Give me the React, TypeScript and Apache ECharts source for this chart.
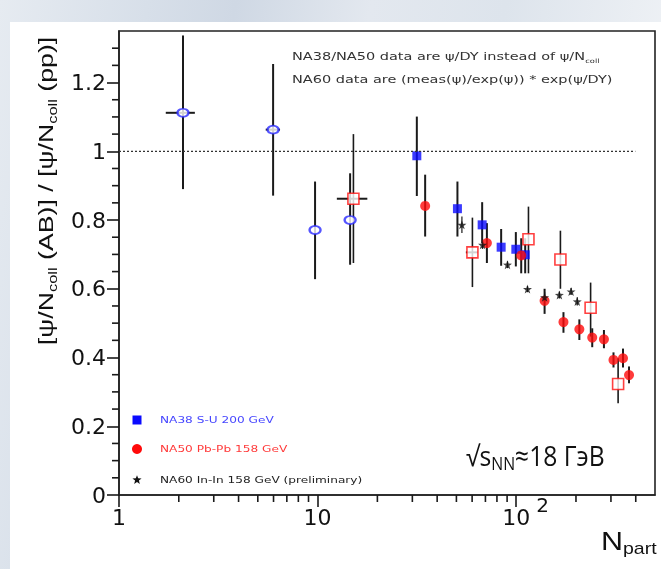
import React, { useEffect, useRef } from "react";
import * as echarts from "echarts";

// NA38 S-U 200 GeV (psi/DY), filled blue squares
const na38Npart = [31.6, 50.6, 67.4, 84.0, 99.6, 111];
const na38Ratio = [0.987, 0.833, 0.786, 0.721, 0.715, 0.699];
const na38Low = [0.87, 0.752, 0.733, 0.667, 0.665, 0.645];
const na38High = [1.101, 0.912, 0.852, 0.774, 0.765, 0.747];

// NA50 Pb-Pb 158 GeV, filled red circles
const na50Npart = [34.8, 71.2, 106, 139, 173, 208, 241.5, 276.6, 309, 345, 370];
const na50Ratio = [0.841, 0.733, 0.697, 0.565, 0.503, 0.482, 0.458, 0.453, 0.393, 0.398, 0.349];
const na50Low = [0.752, 0.675, 0.645, 0.527, 0.472, 0.451, 0.43, 0.427, 0.371, 0.371, 0.325];
const na50High = [0.932, 0.791, 0.747, 0.6, 0.532, 0.511, 0.485, 0.48, 0.415, 0.426, 0.374];

// Pb-Pb open squares
const pbOpenNpart = [15.15, 60.2, 115.3, 167, 237, 326];
const pbOpenRatio = [0.862, 0.706, 0.744, 0.685, 0.545, 0.323];
const pbOpenLow = [0.675, 0.605, 0.645, 0.6, 0.461, 0.267];
const pbOpenHigh = [1.05, 0.807, 0.839, 0.769, 0.618, 0.398];
const pbOpenXLow = [12.5, 55.8, 115.3, 167, 237, 326];
const pbOpenXHigh = [17.8, 64, 115.3, 167, 237, 326];

// light-system open circles
const lightNpart = [2.1, 5.97, 9.71, 14.58];
const lightRatio = [1.112, 1.063, 0.771, 0.8];
const lightLow = [0.89, 0.871, 0.628, 0.67];
const lightHigh = [1.337, 1.254, 0.912, 0.936];
const lightXLow = [1.72, 5.48, 9.71, 14.58];
const lightXHigh = [2.41, 6.47, 9.71, 14.58];

// NA60 In-In 158 GeV (preliminary), stars
const na60Npart = [53.3, 67.7, 90.4, 114, 139, 165, 189, 203];
const na60Ratio = [0.786, 0.728, 0.67, 0.599, 0.575, 0.582, 0.592, 0.563];
const na60Low = [0.762, 0.716, 0.66, 0.59, 0.56, 0.572, 0.582, 0.551];
const na60High = [0.81, 0.74, 0.68, 0.608, 0.59, 0.592, 0.602, 0.575];

// axis ticks
const xMinorTicks = [2, 3, 4, 5, 6, 7, 8, 9, 20, 30, 40, 50, 60, 70, 80, 90, 200, 300, 400];
const yMinorTicks = [
  0.05, 0.1, 0.15, 0.25, 0.3, 0.35, 0.45, 0.5, 0.55, 0.65, 0.7, 0.75, 0.85, 0.9, 0.95, 1.05, 1.1, 1.15,
  1.25, 1.3,
];
const yTickInterval = 0.2;
const xPowerTick = 100;
const referenceLine = [1, 398];

const legendEntries = [
  { name: "NA38 S-U 200 GeV", color: "#4646ff", mark: "square" },
  { name: "NA50 Pb-Pb 158 GeV", color: "#ff3a3a", mark: "dot" },
  { name: "NA60 In-In 158 GeV (preliminary)", color: "#222222", mark: "star" },
];

const STAR =
  "path://M0,-10L2.35,-3.24L9.51,-3.09L3.8,1.24L5.88,8.09L0,4L-5.88,8.09L-3.8,1.24L-9.51,-3.09L-2.35,-3.24Z";

const TICK = "#1a1a1a";

const starPoints = (cx: number, cy: number, r: number) => {
  const pts: number[][] = [];
  for (let k = 0; k < 10; k++) {
    const a = -Math.PI / 2 + (k * Math.PI) / 5;
    const rr = k % 2 === 0 ? r : r * 0.42;
    pts.push([cx + rr * Math.cos(a), cy + rr * Math.sin(a)]);
  }
  return pts;
};

const rows = (
  x: number[],
  y: number[],
  lo: number[],
  hi: number[],
  xl?: number[],
  xh?: number[]
) => x.map((v, i) => [v, y[i], lo[i], hi[i], xl ? xl[i] : v, xh ? xh[i] : v]);

const seg = (x1: number, y1: number, x2: number, y2: number, w: number, color = "#1a1a1a") => ({
  type: "line",
  shape: { x1, y1, x2, y2 },
  style: { stroke: color, lineWidth: w },
});

const errorBars = (data: number[][], width: number) => ({
  type: "custom",
  silent: true,
  clip: false,
  encode: { x: 0, y: 1 },
  data,
  renderItem: (_p: any, api: any) => {
    const x = api.value(0);
    const y = api.value(1);
    const top = api.coord([x, api.value(3)]);
    const bot = api.coord([x, api.value(2)]);
    const children: any[] = [seg(top[0], top[1], bot[0], bot[1], width)];
    const xl = api.value(4);
    const xh = api.value(5);
    if (xh > xl) {
      const l = api.coord([xl, y]);
      const r = api.coord([xh, y]);
      children.push(seg(l[0], l[1], r[0], r[1], 2));
    }
    return { type: "group", children };
  },
});

// short outward minor ticks: flag 1 = on the y axis
const minorTicks = (data: number[][]) => ({
  type: "custom",
  silent: true,
  clip: false,
  encode: { x: 0, y: 1 },
  data,
  renderItem: (_p: any, api: any) => {
    const p = api.coord([api.value(0), api.value(1)]);
    const horizontal = api.value(2) === 1;
    return horizontal
      ? seg(p[0], p[1], p[0] - 7, p[1], 1.6, TICK)
      : seg(p[0], p[1], p[0], p[1] + 7, 1.6, TICK);
  },
});

export default function App() {
  const ref = useRef<HTMLDivElement>(null);

  useEffect(() => {
    if (!ref.current) return;
    const chart = echarts.init(ref.current, undefined, { renderer: "svg" });

    const na38 = rows(na38Npart, na38Ratio, na38Low, na38High);
    const na50 = rows(na50Npart, na50Ratio, na50Low, na50High);
    const pbOpen = rows(pbOpenNpart, pbOpenRatio, pbOpenLow, pbOpenHigh, pbOpenXLow, pbOpenXHigh);
    const light = rows(lightNpart, lightRatio, lightLow, lightHigh, lightXLow, lightXHigh);
    const na60 = rows(na60Npart, na60Ratio, na60Low, na60High);

    const tickFont = "DejaVu Sans, sans-serif";
    const titleFont = "Liberation Sans, Arial, sans-serif";
    const noteFont = "DejaVu Sans, sans-serif";

    // slide background and white panel
    const backdrop: any[] = [
      {
        type: "rect",
        shape: { x: 0, y: 0, width: 661, height: 569 },
        style: {
          fill: {
            type: "linear",
            x: 0,
            y: 0,
            x2: 1,
            y2: 0.15,
            colorStops: [
              { offset: 0, color: "#e6ebf1" },
              { offset: 0.22, color: "#d7dfe9" },
              { offset: 0.35, color: "#cfd8e4" },
              { offset: 0.55, color: "#e3e8ef" },
              { offset: 0.75, color: "#dde4ec" },
              { offset: 1, color: "#eef1f5" },
            ],
          },
        },
        z: -10,
      },
      { type: "rect", shape: { x: 10, y: 22, width: 651, height: 547 }, style: { fill: "#ffffff" }, z: -9 },
    ];

    const legendGraphics: any[] = [];
    legendEntries.forEach((e, i) => {
      const cy = [420, 449, 480][i];
      if (e.mark === "square") {
        legendGraphics.push({ type: "rect", shape: { x: 132.5, y: cy - 4.5, width: 9, height: 9 }, style: { fill: "#0a0aff" } });
      } else if (e.mark === "dot") {
        legendGraphics.push({ type: "circle", shape: { cx: 137, cy, r: 5 }, style: { fill: "#ff0a0a" } });
      } else {
        legendGraphics.push({ type: "polygon", shape: { points: starPoints(137, cy, 4.8) }, style: { fill: "#111" } });
      }
      legendGraphics.push({
        type: "text",
        x: 160,
        y: cy,
        scaleX: 1.35,
        style: { text: e.name, fontSize: 9, fontFamily: noteFont, fill: e.color, verticalAlign: "middle" },
      });
    });

    const textGraphics: any[] = [
      {
        type: "text",
        x: 47,
        y: 191,
        rotation: Math.PI / 2,
        scaleX: 1.27,
        style: {
          text: "{n|[ψ/N}{s|coll}{n| (AB)] / [ψ/N}{s|coll}{n| (pp)]}",
          align: "center",
          verticalAlign: "middle",
          rich: {
            n: { fontSize: 21, lineHeight: 24, verticalAlign: "top", fontFamily: titleFont, fill: "#111" },
            s: { fontSize: 13, lineHeight: 12, verticalAlign: "bottom", fontFamily: titleFont, fill: "#111" },
          },
        },
      },
      {
        type: "text",
        x: 601,
        y: 543,
        scaleX: 1.22,
        style: {
          text: "{n|N}{s|part}",
          align: "left",
          verticalAlign: "middle",
          rich: {
            n: { fontSize: 25, lineHeight: 28, verticalAlign: "top", fontFamily: titleFont, fill: "#111" },
            s: { fontSize: 16, lineHeight: 14, verticalAlign: "bottom", fontFamily: titleFont, fill: "#111" },
          },
        },
      },
      {
        type: "text",
        x: 292,
        y: 57,
        scaleX: 1.38,
        style: {
          text: "{n|NA38/NA50 data are ψ/DY instead of ψ/N}{s|coll}",
          verticalAlign: "middle",
          rich: {
            n: { fontSize: 10.5, lineHeight: 13, verticalAlign: "top", fontFamily: noteFont, fill: "#333" },
            s: { fontSize: 6, lineHeight: 7, verticalAlign: "bottom", fontFamily: noteFont, fill: "#333" },
          },
        },
      },
      {
        type: "text",
        x: 292,
        y: 79,
        scaleX: 1.38,
        style: {
          text: "NA60 data are (meas(ψ)/exp(ψ)) * exp(ψ/DY)",
          verticalAlign: "middle",
          fontSize: 10.5,
          fontFamily: noteFont,
          fill: "#333",
        },
      },
      {
        type: "text",
        x: 466,
        y: 457,
        scaleX: 0.88,
        style: {
          text: "{n|√s}{s|NN}{n|≈18 ГэВ}",
          verticalAlign: "middle",
          rich: {
            n: { fontSize: 28, lineHeight: 31, verticalAlign: "top", fontFamily: "Open Sans, sans-serif", fill: "#111" },
            s: { fontSize: 18, lineHeight: 18, verticalAlign: "bottom", fontFamily: "Open Sans, sans-serif", fill: "#111" },
          },
        },
      },
    ];

    const tickStyle = { color: TICK, width: 1.6 };

    chart.setOption({
      animation: false,
      grid: {
        left: 119,
        right: 6,
        top: 31,
        bottom: 74,
        show: true,
        borderColor: "#222",
        borderWidth: 1.6,
      },
      xAxis: {
        type: "log",
        logBase: 10,
        min: 1,
        max: 500,
        axisLine: { lineStyle: { color: "#222", width: 1.6 } },
        axisTick: { show: true, length: 12, lineStyle: tickStyle },
        splitLine: { show: false },
        axisLabel: {
          margin: -7,
          showMaxLabel: false,
          color: "#111",
          fontFamily: tickFont,
          formatter: (v: number) => {
            const r = Math.round(v);
            return `{b|${r === xPowerTick ? 10 : r}}`;
          },
          rich: {
            b: { fontSize: 22, lineHeight: 40, verticalAlign: "bottom", fontFamily: tickFont, color: "#111" },
          },
        },
      },
      yAxis: {
        type: "value",
        min: 0,
        max: 1.35,
        interval: yTickInterval,
        axisLine: { show: true, lineStyle: { color: "#222", width: 1.6 } },
        axisTick: { show: true, length: 12, lineStyle: tickStyle },
        splitLine: { show: false },
        axisLabel: {
          showMaxLabel: false,
          margin: 13,
          fontSize: 22,
          color: "#111",
          fontFamily: tickFont,
          formatter: (v: number) => String(Number(v.toFixed(2))),
        },
      },
      series: [
        {
          type: "line",
          silent: true,
          symbol: "none",
          data: referenceLine.map((x) => [x, 1]),
          lineStyle: { color: "#333", width: 1.3, type: [2, 2] },
        },
        errorBars(light, 2),
        errorBars(pbOpen, 1.6),
        errorBars(na38, 2),
        errorBars(na50, 2),
        errorBars(na60, 1.2),
        minorTicks(xMinorTicks.map((v) => [v, 0, 0])),
        minorTicks(yMinorTicks.map((v) => [1, v, 1])),
        {
          name: "light",
          type: "scatter",
          symbol: "circle",
          symbolSize: [11, 8],
          data: light.map((r) => [r[0], r[1]]),
          itemStyle: { color: "#fff", borderColor: "#2a2aff", borderWidth: 2 },
        },
        {
          name: "Pb-Pb open",
          type: "scatter",
          symbol: "rect",
          symbolSize: 11,
          data: pbOpen.map((r) => [r[0], r[1]]),
          itemStyle: { color: "#fff", borderColor: "#ff1010", borderWidth: 1.6 },
        },
        {
          name: "NA38 S-U 200 GeV",
          type: "scatter",
          symbol: "rect",
          symbolSize: 9,
          data: na38.map((r) => [r[0], r[1]]),
          itemStyle: { color: "#0a0aff" },
        },
        {
          name: "NA50 Pb-Pb 158 GeV",
          type: "scatter",
          symbol: "circle",
          symbolSize: 10,
          data: na50.map((r) => [r[0], r[1]]),
          itemStyle: { color: "#ff0a0a" },
        },
        {
          name: "NA60 In-In 158 GeV (preliminary)",
          type: "scatter",
          symbol: STAR,
          symbolSize: 9,
          data: na60.map((r) => [r[0], r[1]]),
          itemStyle: { color: "#111" },
        },
      ],
      graphic: [...backdrop, ...legendGraphics, ...textGraphics],
    });

    // exponent of the "10²" tick label, placed beside that tick
    const p = chart.convertToPixel({ gridIndex: 0 }, [xPowerTick, 0]) as number[];
    const exponent = {
      type: "text",
      x: p[0] + 20,
      y: p[1] + 10,
      style: { text: "2", fontSize: 20, fontFamily: tickFont, fill: "#111", verticalAlign: "middle" },
    };
    chart.setOption({ graphic: [...backdrop, ...legendGraphics, ...textGraphics, exponent] });

    return () => chart.dispose();
  }, []);

  return <div ref={ref} style={{ position: "fixed", left: 0, top: 0, width: 661, height: 569 }} />;
}
